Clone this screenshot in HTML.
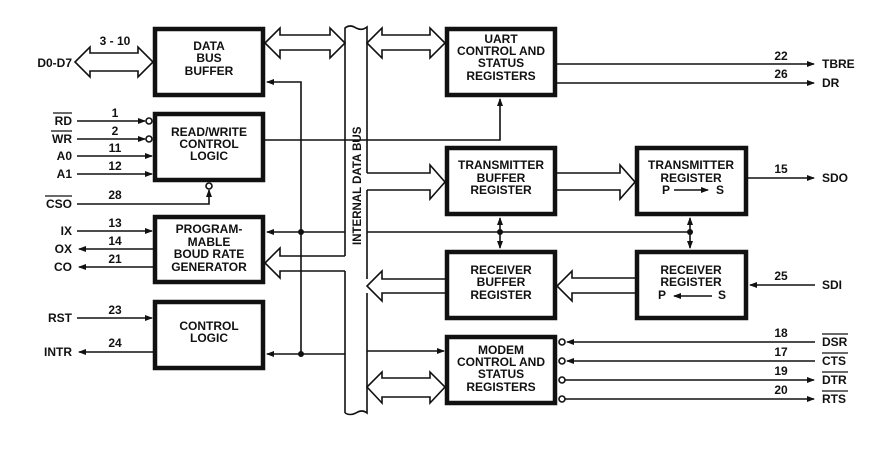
<!DOCTYPE html>
<html><head><style>
body{margin:0;background:#fff;width:893px;height:449px;overflow:hidden}
svg text{font-family:"Liberation Sans",Arial,sans-serif;font-weight:bold;font-size:12px;fill:#111}
</style></head><body>
<svg width="893" height="449" viewBox="0 0 893 449" xmlns="http://www.w3.org/2000/svg">
<defs>
<marker id="a" markerWidth="8" markerHeight="6" refX="7" refY="3" orient="auto" markerUnits="userSpaceOnUse"><path d="M0,0 L8,3 L0,6 Z" fill="#111"/></marker>
</defs>
<g fill="none" stroke="#111" stroke-width="1.6">
<!-- fat arrows -->
<path d="M75,62 L90,47 L90,53 L138,53 L138,47 L153,62 L138,77 L138,71 L90,71 L90,77 Z" fill="#fff"/>
<path d="M265,43 L280,28 L280,35 L330,35 L330,28 L345,43 L330,58 L330,50 L280,50 L280,58 Z" fill="#fff"/>
<path d="M367,43 L382,28 L382,35 L430,35 L430,28 L445,43 L430,58 L430,50 L382,50 L382,58 Z" fill="#fff"/>
<path d="M367,387 L382,372 L382,378 L430,378 L430,372 L445,387 L430,403 L430,397 L382,397 L382,403 Z" fill="#fff"/>
<!-- bus -->
<path d="M345,413 L345,271 M345,256 L345,28 Q350,24 356,28 Q362,31 367,27 L367,173 M367,190 L367,279 M367,293 L367,413 Q362,409 356,413 Q350,416 345,413"/>
<!-- bus to TX buffer -->
<path d="M367,173 L430,173 L430,165 L445,182 L430,199 L430,190 L367,190"/>
<path d="M557,173 L620,173 L620,165 L635,182 L620,199 L620,190 L557,190"/>
<path d="M635,278 L572,278 L572,271 L557,286 L572,301 L572,293 L635,293"/>
<path d="M445,279 L382,279 L382,271 L367,286 L382,301 L382,293 L445,293"/>
<path d="M345,256 L280,256 L280,248 L265,263 L280,278 L280,271 L345,271"/>
</g>
<g stroke="#111" stroke-width="4.5" fill="#fff">
<rect x="155" y="29" width="108" height="66"/>
<rect x="155" y="114" width="108" height="66"/>
<rect x="155" y="217" width="108" height="65"/>
<rect x="155" y="302" width="108" height="66"/>
<rect x="447" y="29" width="108" height="66"/>
<rect x="447" y="148" width="108" height="66"/>
<rect x="637" y="148" width="109" height="66"/>
<rect x="447" y="252" width="108" height="66"/>
<rect x="637" y="252" width="109" height="66"/>
<rect x="447" y="337" width="108" height="66"/>
</g>
<g stroke="#111" stroke-width="1.6" fill="none">
<line x1="77" y1="121" x2="145" y2="121" marker-end="url(#a)"/>
<line x1="77" y1="139" x2="145" y2="139" marker-end="url(#a)"/>
<line x1="77" y1="156" x2="152" y2="156" marker-end="url(#a)"/>
<line x1="77" y1="174" x2="152" y2="174" marker-end="url(#a)"/>
<path d="M77,204 L209,204 L209,190" marker-end="url(#a)"/>
<circle cx="149" cy="121" r="3"/><circle cx="149" cy="139" r="3"/><circle cx="209" cy="186" r="3"/>
<line x1="77" y1="231" x2="152" y2="231" marker-end="url(#a)"/>
<line x1="153" y1="249" x2="79" y2="249" marker-end="url(#a)"/>
<line x1="153" y1="267" x2="79" y2="267" marker-end="url(#a)"/>
<line x1="77" y1="318" x2="152" y2="318" marker-end="url(#a)"/>
<line x1="153" y1="352" x2="79" y2="352" marker-end="url(#a)"/>
<path d="M301,354 L301,82 L267,82" marker-end="url(#a)"/>
<line x1="345" y1="232" x2="267" y2="232" marker-end="url(#a)"/>
<line x1="345" y1="354" x2="267" y2="354" marker-end="url(#a)"/>
<path d="M265,140 L500,140 L500,99" marker-end="url(#a)"/>
<line x1="367" y1="232" x2="690" y2="232"/>
<line x1="500" y1="232" x2="500" y2="218" marker-end="url(#a)"/>
<line x1="500" y1="232" x2="500" y2="248" marker-end="url(#a)"/>
<line x1="690" y1="232" x2="690" y2="218" marker-end="url(#a)"/>
<line x1="690" y1="232" x2="690" y2="248" marker-end="url(#a)"/>
<line x1="367" y1="351" x2="444" y2="351" marker-end="url(#a)"/>
<line x1="557" y1="64" x2="814" y2="64" marker-end="url(#a)"/>
<line x1="557" y1="83" x2="814" y2="83" marker-end="url(#a)"/>
<line x1="748" y1="178" x2="814" y2="178" marker-end="url(#a)"/>
<line x1="815" y1="285" x2="750" y2="285" marker-end="url(#a)"/>
<line x1="815" y1="342" x2="567" y2="342" marker-end="url(#a)"/>
<line x1="815" y1="361" x2="567" y2="361" marker-end="url(#a)"/>
<line x1="565" y1="380" x2="814" y2="380" marker-end="url(#a)"/>
<line x1="565" y1="399" x2="814" y2="399" marker-end="url(#a)"/>
<circle cx="562" cy="342" r="3"/><circle cx="562" cy="361" r="3"/><circle cx="562" cy="380" r="3"/><circle cx="562" cy="399" r="3"/>
<line x1="674" y1="190" x2="708" y2="190" marker-end="url(#a)"/>
<line x1="712" y1="296" x2="674" y2="296" marker-end="url(#a)"/>
</g>
<g fill="#111">
<circle cx="301" cy="232" r="3"/><circle cx="301" cy="354" r="3"/>
<circle cx="500" cy="232" r="3"/><circle cx="690" cy="232" r="3"/>
</g>
<g text-anchor="end">
<text x="72" y="67">D0-D7</text>
<text x="72" y="125">RD</text><text x="72" y="143">WR</text>
<text x="72" y="160">A0</text><text x="72" y="178">A1</text>
<text x="72" y="208">CSO</text>
<text x="72" y="235">IX</text><text x="72" y="253">OX</text><text x="72" y="271">CO</text>
<text x="72" y="322">RST</text><text x="72" y="356">INTR</text>
</g>
<g stroke="#111" stroke-width="1.2">
<line x1="53" y1="113" x2="72" y2="113"/><line x1="51" y1="131" x2="72" y2="131"/><line x1="45" y1="196" x2="72" y2="196"/>
<line x1="822" y1="334" x2="848" y2="334"/><line x1="822" y1="353" x2="848" y2="353"/><line x1="822" y1="372" x2="848" y2="372"/><line x1="822" y1="391" x2="848" y2="391"/>
</g>
<g text-anchor="middle">
<text x="115" y="45">3 - 10</text>
<text x="115" y="117">1</text><text x="115" y="135">2</text><text x="115" y="152">11</text><text x="115" y="170">12</text><text x="115" y="199">28</text>
<text x="115" y="227">13</text><text x="115" y="245">14</text><text x="115" y="263">21</text>
<text x="115" y="314">23</text><text x="115" y="347">24</text>
<text x="781" y="60">22</text><text x="781" y="78">26</text><text x="781" y="173">15</text><text x="781" y="280">25</text>
<text x="781" y="337">18</text><text x="781" y="356">17</text><text x="781" y="375">19</text><text x="781" y="394">20</text>
</g>
<g>
<text x="822" y="68">TBRE</text><text x="822" y="87">DR</text><text x="822" y="182">SDO</text><text x="822" y="289">SDI</text>
<text x="822" y="346">DSR</text><text x="822" y="365">CTS</text><text x="822" y="384">DTR</text><text x="822" y="403">RTS</text>
</g>
<g text-anchor="middle" style="font-size:12px">
<text x="209" y="50">DATA</text><text x="209" y="62">BUS</text><text x="209" y="75">BUFFER</text>
<text x="209" y="136">READ/WRITE</text><text x="209" y="148">CONTROL</text><text x="209" y="160">LOGIC</text>
<text x="209" y="233">PROGRAM-</text><text x="209" y="246">MABLE</text><text x="209" y="258">BOUD RATE</text><text x="209" y="271">GENERATOR</text>
<text x="209" y="330">CONTROL</text><text x="209" y="342">LOGIC</text>
<text x="501" y="43">UART</text><text x="501" y="55">CONTROL AND</text><text x="501" y="67">STATUS</text><text x="501" y="80">REGISTERS</text>
<text x="501" y="169">TRANSMITTER</text><text x="501" y="182">BUFFER</text><text x="501" y="194">REGISTER</text>
<text x="691" y="169">TRANSMITTER</text><text x="691" y="182">REGISTER</text>
<text x="501" y="274">RECEIVER</text><text x="501" y="286">BUFFER</text><text x="501" y="299">REGISTER</text>
<text x="691" y="274">RECEIVER</text><text x="691" y="286">REGISTER</text>
<text x="501" y="354">MODEM</text><text x="501" y="366">CONTROL AND</text><text x="501" y="378">STATUS</text><text x="501" y="391">REGISTERS</text>
</g>
<text x="662" y="194">P</text><text x="716" y="194">S</text>
<text x="658" y="299">P</text><text x="718" y="299">S</text>
<text transform="translate(361,245) rotate(-90)" style="font-size:11.5px">INTERNAL DATA BUS</text>
</svg>
</body></html>
